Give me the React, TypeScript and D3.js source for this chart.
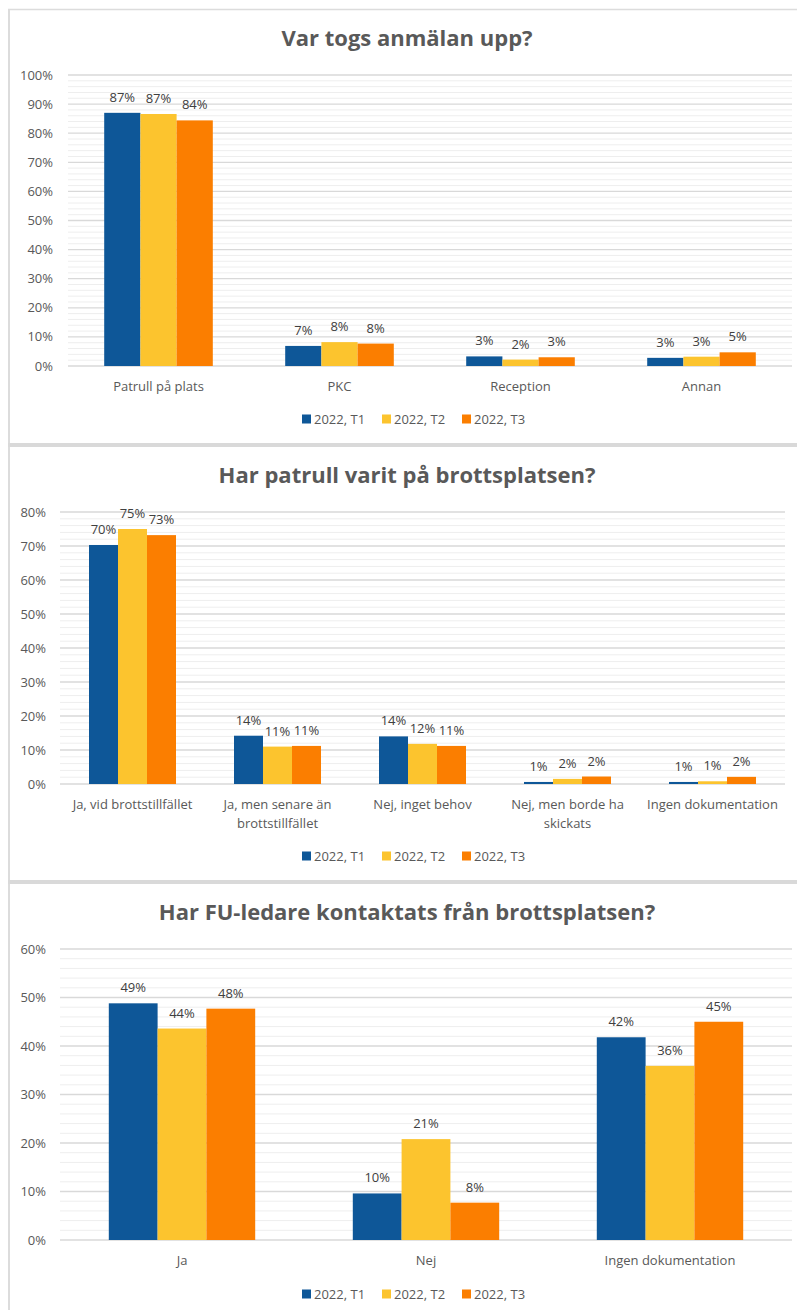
import React from "react";
import * as d3 from "d3";

const seriesNames = ["2022, T1", "2022, T2", "2022, T3"];
const seriesColors = ["#0e5798", "#fcc42e", "#fb7e00"];

const c1Title = "Var togs anmälan upp?";
const c1Categories = ["Patrull på plats", "PKC", "Reception", "Annan"];
const c1T1 = [0.87, 0.069, 0.033, 0.028];
const c1T2 = [0.866, 0.082, 0.022, 0.032];
const c1T3 = [0.844, 0.077, 0.03, 0.047];
const c1Ticks = [0, 0.1, 0.2, 0.3, 0.4, 0.5, 0.6, 0.7, 0.8, 0.9, 1.0];

const c2Title = "Har patrull varit på brottsplatsen?";
const c2Categories = [
  ["Ja, vid brottstillfället"],
  ["Ja, men senare än", "brottstillfället"],
  ["Nej, inget behov"],
  ["Nej, men borde ha", "skickats"],
  ["Ingen dokumentation"],
];
const c2T1 = [0.703, 0.142, 0.14, 0.006, 0.006];
const c2T2 = [0.75, 0.11, 0.118, 0.015, 0.008];
const c2T3 = [0.732, 0.112, 0.112, 0.022, 0.021];
const c2Ticks = [0, 0.1, 0.2, 0.3, 0.4, 0.5, 0.6, 0.7, 0.8];

const c3Title = "Har FU-ledare kontaktats från brottsplatsen?";
const c3Categories = [["Ja"], ["Nej"], ["Ingen dokumentation"]];
const c3T1 = [0.488, 0.096, 0.418];
const c3T2 = [0.436, 0.208, 0.359];
const c3T3 = [0.477, 0.077, 0.45];
const c3Ticks = [0, 0.1, 0.2, 0.3, 0.4, 0.5, 0.6];

const FONT = "'Open Sans', sans-serif";
const TEXT = "#595959";

type ChartProps = {
  title: string;
  categories: string[][];
  series: number[][];
  ticks: number[];
  left: number;
  right: number;
  top: number;
  bottom: number;
  tickLabelX: number;
  titleY: number;
  xLabelY: number;
  legendY: number;
};

function Chart(p: ChartProps) {
  const max = p.ticks[p.ticks.length - 1];
  const y = d3.scaleLinear().domain([0, max]).range([p.bottom, p.top]);
  const x = d3
    .scaleBand<number>()
    .domain(p.categories.map((_, i) => i))
    .range([p.left, p.right])
    .paddingInner(0.4)
    .paddingOuter(0.2);
  const inner = d3
    .scaleBand<number>()
    .domain(p.series.map((_, i) => i))
    .range([0, x.bandwidth()]);
  const step = p.ticks[1] - p.ticks[0];
  const minor: number[] = [];
  for (let i = 0; i < p.ticks.length - 1; i++) {
    for (let k = 1; k < 5; k++) minor.push(p.ticks[i] + (step * k) / 5);
  }
  const fmt = d3.format(".0%");
  const legendStart = 302;
  const legendStep = 80;
  return (
    <g>
      <text
        x={407}
        y={p.titleY}
        textAnchor="middle"
        fontFamily={FONT}
        fontWeight="bold"
        fontSize={22}
        fill={TEXT}
      >
        {p.title}
      </text>
      {minor.map((t, i) => (
        <line key={"m" + i} x1={p.left} x2={p.right} y1={y(t)} y2={y(t)} stroke="#eeeeee" strokeWidth={1} />
      ))}
      {p.ticks.map((t, i) => (
        <g key={"t" + i}>
          <line x1={p.left} x2={p.right} y1={y(t)} y2={y(t)} stroke="#d9d9d9" strokeWidth={1.3} />
          <text
            x={p.tickLabelX}
            y={y(t) + 4.5}
            textAnchor="end"
            fontFamily={FONT}
            fontSize={13}
            fill={TEXT}
          >
            {fmt(t)}
          </text>
        </g>
      ))}
      {p.categories.map((cat, ci) => (
        <g key={"c" + ci}>
          {p.series.map((s, si) => {
            const bx = (x(ci) as number) + (inner(si) as number);
            const v = s[ci];
            return (
              <g key={si}>
                <rect
                  x={bx}
                  y={y(v)}
                  width={inner.bandwidth()}
                  height={p.bottom - y(v)}
                  fill={seriesColors[si]}
                />
                <text
                  x={bx + inner.bandwidth() / 2}
                  y={y(v) - 11}
                  textAnchor="middle"
                  fontFamily={FONT}
                  fontSize={13}
                  fill="#404040"
                >
                  {fmt(v)}
                </text>
              </g>
            );
          })}
          {cat.map((line, li) => (
            <text
              key={li}
              x={(x(ci) as number) + x.bandwidth() / 2}
              y={p.xLabelY + li * 19}
              textAnchor="middle"
              fontFamily={FONT}
              fontSize={13}
              fill={TEXT}
            >
              {line}
            </text>
          ))}
        </g>
      ))}
      {seriesNames.map((n, i) => (
        <g key={"l" + i}>
          <rect
            x={legendStart + i * legendStep}
            y={p.legendY - 4.5}
            width={9}
            height={9}
            fill={seriesColors[i]}
          />
          <text
            x={legendStart + i * legendStep + 12}
            y={p.legendY + 4.5}
            fontFamily={FONT}
            fontSize={13}
            fill={TEXT}
          >
            {n}
          </text>
        </g>
      ))}
    </g>
  );
}

export default function App() {
  return (
    <div style={{ position: "absolute", left: 0, top: 0 }}>
      <svg width={797} height={1310} style={{ display: "block", background: "#fff" }}>
        <rect x={0} y={0} width={797} height={1310} fill="#fff" />
        <line x1={8} x2={797} y1={9.5} y2={9.5} stroke="#dcdcdc" strokeWidth={1.5} />
        <line x1={9} x2={9} y1={9} y2={1310} stroke="#dcdcdc" strokeWidth={2} />
        <rect x={8} y={443} width={789} height={4} fill="#d9d9d9" />
        <rect x={8} y={880} width={789} height={4} fill="#d9d9d9" />
        <Chart
          title={c1Title}
          categories={c1Categories.map((c) => [c])}
          series={[c1T1, c1T2, c1T3]}
          ticks={c1Ticks}
          left={68}
          right={792}
          top={75}
          bottom={366}
          tickLabelX={53}
          titleY={46}
          xLabelY={391}
          legendY={419}
        />
        <Chart
          title={c2Title}
          categories={c2Categories}
          series={[c2T1, c2T2, c2T3]}
          ticks={c2Ticks}
          left={60}
          right={785}
          top={512}
          bottom={784}
          tickLabelX={46}
          titleY={483}
          xLabelY={809}
          legendY={856}
        />
        <Chart
          title={c3Title}
          categories={c3Categories}
          series={[c3T1, c3T2, c3T3]}
          ticks={c3Ticks}
          left={60}
          right={792}
          top={949}
          bottom={1240}
          tickLabelX={46}
          titleY={920}
          xLabelY={1265}
          legendY={1294}
        />
      </svg>
    </div>
  );
}
